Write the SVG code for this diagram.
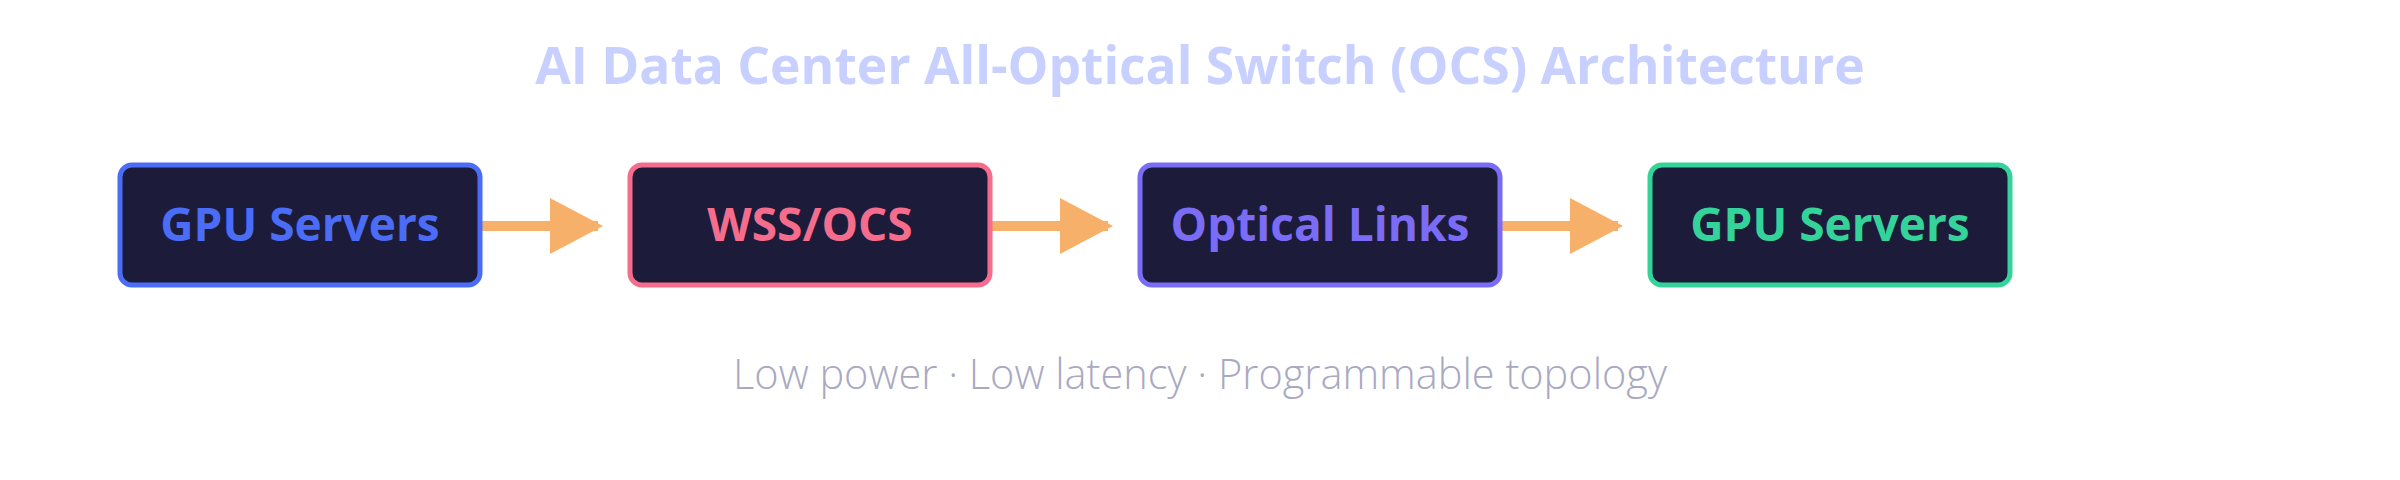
<svg xmlns="http://www.w3.org/2000/svg" width="2400" height="480" viewBox="0 0 2400 480">
<defs>
<style>
.box{fill:#1c1c3a;stroke-width:5}
.lbl{font-family:"Open Sans","Noto Sans",sans-serif;font-weight:700;font-size:46px;text-anchor:middle}
.title{font-family:"Open Sans","Noto Sans",sans-serif;font-weight:700;font-size:51.5px;text-anchor:middle;fill:#c8d0ff}
.sub{font-family:"Open Sans","Noto Sans",sans-serif;font-weight:300;font-size:41.5px;text-anchor:middle;fill:#a9a9c2}
.conn{stroke:#f6b06a;stroke-width:10;fill:none}
</style>
<marker id="ah" markerUnits="userSpaceOnUse" markerWidth="56" markerHeight="56" refX="48" refY="28" orient="auto" viewBox="0 0 56 56">
<path d="M0,0 L53,28 L0,56 Z" fill="#f6b06a"/>
</marker>
</defs>
<rect width="2400" height="480" fill="#ffffff"/>
<text class="title" x="1200" y="84">AI Data Center All-Optical Switch (OCS) Architecture</text>
<g id="connectors">
<line class="conn" x1="481" y1="226" x2="598" y2="226" marker-end="url(#ah)"/>
<line class="conn" x1="991" y1="226" x2="1108" y2="226" marker-end="url(#ah)"/>
<line class="conn" x1="1501" y1="226" x2="1618" y2="226" marker-end="url(#ah)"/>
</g>
<g id="n1"><rect class="box" x="120" y="165" width="360" height="120" rx="12" stroke="#4a6cf7"/><text class="lbl" x="300" y="241" fill="#4a6cf7">GPU Servers</text></g>
<g id="n2"><rect class="box" x="630" y="165" width="360" height="120" rx="12" stroke="#f56c8c"/><text class="lbl" x="810" y="241" fill="#f56c8c">WSS/OCS</text></g>
<g id="n3"><rect class="box" x="1140" y="165" width="360" height="120" rx="12" stroke="#7b6cf6"/><text class="lbl" x="1320" y="241" fill="#7b6cf6">Optical Links</text></g>
<g id="n4"><rect class="box" x="1650" y="165" width="360" height="120" rx="12" stroke="#34d399"/><text class="lbl" x="1830" y="241" fill="#34d399">GPU Servers</text></g>
<text class="sub" x="1200" y="389">Low power · Low latency · Programmable topology</text>
</svg>
